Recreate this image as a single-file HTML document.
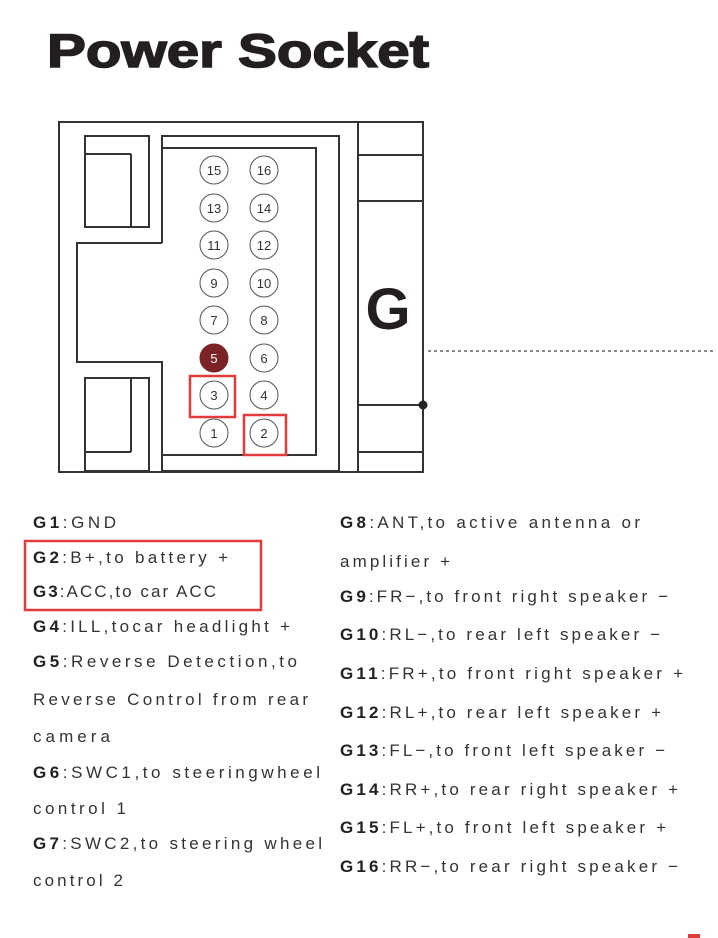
<!DOCTYPE html>
<html><head><meta charset="utf-8"><style>
html,body{margin:0;padding:0;background:#fff;width:718px;height:938px;overflow:hidden}
svg{display:block}
text{font-family:"Liberation Sans",sans-serif}
.t{font-size:17px;fill:#333}
.b{font-weight:bold;fill:#222}
.n{font-size:13px;fill:#333;text-anchor:middle}
</style></head><body>
<svg width="718" height="938" viewBox="0 0 718 938" xmlns="http://www.w3.org/2000/svg">
<text x="47" y="67" font-size="47" font-weight="900" fill="#231f20" textLength="382" lengthAdjust="spacingAndGlyphs" style="font-family:'Liberation Sans',sans-serif;stroke:#231f20;stroke-width:1.5">Power Socket</text>
<g fill="none" stroke="#333" stroke-width="2">
<rect x="59" y="122" width="364" height="350"/>
<line x1="358" y1="122" x2="358" y2="472"/>
<line x1="358" y1="155" x2="423" y2="155"/>
<line x1="358" y1="201" x2="423" y2="201"/>
<line x1="358" y1="405" x2="423" y2="405"/>
<line x1="358" y1="452" x2="423" y2="452"/>
<polyline points="162,243 162,136 339,136 339,471 162,471 162,362 77,362 77,243 162,243"/>
<polyline points="162,148 316,148 316,455 162,455"/>
<rect x="85" y="136" width="64" height="91"/>
<line x1="131" y1="154" x2="131" y2="227"/>
<line x1="85" y1="154" x2="131" y2="154"/>
<rect x="85" y="378" width="64" height="93"/>
<line x1="131" y1="378" x2="131" y2="452"/>
<line x1="85" y1="452" x2="131" y2="452"/>
</g>
<circle cx="423" cy="405" r="4.5" fill="#222"/>
<line x1="428" y1="351" x2="716" y2="351" stroke="#444" stroke-width="1.2" stroke-dasharray="3,3"/>
<text x="388" y="329" font-size="58" font-weight="bold" fill="#231f20" text-anchor="middle">G</text>
<g stroke="#555" stroke-width="1" fill="#fff">
<circle cx="214" cy="170" r="14"/><circle cx="264" cy="170" r="14"/>
<circle cx="214" cy="208" r="14"/><circle cx="264" cy="208" r="14"/>
<circle cx="214" cy="245" r="14"/><circle cx="264" cy="245" r="14"/>
<circle cx="214" cy="283" r="14"/><circle cx="264" cy="283" r="14"/>
<circle cx="214" cy="320" r="14"/><circle cx="264" cy="320" r="14"/>
<circle cx="214" cy="358" r="14" fill="#7a2226" stroke="#7a2226"/><circle cx="264" cy="358" r="14"/>
<circle cx="214" cy="395" r="14"/><circle cx="264" cy="395" r="14"/>
<circle cx="214" cy="433" r="14"/><circle cx="264" cy="433" r="14"/>
</g>
<g class="n">
<text x="214" y="175" class="n">15</text><text x="264" y="175" class="n">16</text>
<text x="214" y="213" class="n">13</text><text x="264" y="213" class="n">14</text>
<text x="214" y="250" class="n">11</text><text x="264" y="250" class="n">12</text>
<text x="214" y="288" class="n">9</text><text x="264" y="288" class="n">10</text>
<text x="214" y="325" class="n">7</text><text x="264" y="325" class="n">8</text>
<text x="214" y="363" class="n" style="fill:#fff">5</text><text x="264" y="363" class="n">6</text>
<text x="214" y="400" class="n">3</text><text x="264" y="400" class="n">4</text>
<text x="214" y="438" class="n">1</text><text x="264" y="438" class="n">2</text>
</g>
<g fill="none" stroke="#e03c3c" stroke-width="2.5">
<rect x="190" y="376" width="45" height="41"/>
<rect x="244" y="415" width="42" height="40"/>
<rect x="25" y="541" width="236" height="69"/>
</g>
<g class="t">
<text x="33" y="528" textLength="83" lengthAdjust="spacing"><tspan class="b">G1</tspan>:GND</text>
<text x="33" y="563" textLength="195" lengthAdjust="spacing"><tspan class="b">G2</tspan>:B+,to battery +</text>
<text x="33" y="597" textLength="183" lengthAdjust="spacing"><tspan class="b">G3</tspan>:ACC,to car ACC</text>
<text x="33" y="632" textLength="257" lengthAdjust="spacing"><tspan class="b">G4</tspan>:ILL,tocar headlight +</text>
<text x="33" y="667" textLength="264" lengthAdjust="spacing"><tspan class="b">G5</tspan>:Reverse Detection,to</text>
<text x="33" y="705" textLength="275" lengthAdjust="spacing">Reverse Control from rear</text>
<text x="33" y="742" textLength="77" lengthAdjust="spacing">camera</text>
<text x="33" y="778" textLength="287" lengthAdjust="spacing"><tspan class="b">G6</tspan>:SWC1,to steeringwheel</text>
<text x="33" y="814" textLength="93" lengthAdjust="spacing">control 1</text>
<text x="33" y="849" textLength="289" lengthAdjust="spacing"><tspan class="b">G7</tspan>:SWC2,to steering wheel</text>
<text x="33" y="886" textLength="90" lengthAdjust="spacing">control 2</text>
<text x="340" y="528" textLength="300" lengthAdjust="spacing"><tspan class="b">G8</tspan>:ANT,to active antenna or</text>
<text x="340" y="567" textLength="110" lengthAdjust="spacing">amplifier +</text>
<text x="340" y="602" textLength="328" lengthAdjust="spacing"><tspan class="b">G9</tspan>:FR−,to front right speaker −</text>
<text x="340" y="640" textLength="320" lengthAdjust="spacing"><tspan class="b">G10</tspan>:RL−,to rear left speaker −</text>
<text x="340" y="679" textLength="343" lengthAdjust="spacing"><tspan class="b">G11</tspan>:FR+,to front right speaker +</text>
<text x="340" y="718" textLength="321" lengthAdjust="spacing"><tspan class="b">G12</tspan>:RL+,to rear left speaker +</text>
<text x="340" y="756" textLength="325" lengthAdjust="spacing"><tspan class="b">G13</tspan>:FL−,to front left speaker −</text>
<text x="340" y="795" textLength="338" lengthAdjust="spacing"><tspan class="b">G14</tspan>:RR+,to rear right speaker +</text>
<text x="340" y="833" textLength="326" lengthAdjust="spacing"><tspan class="b">G15</tspan>:FL+,to front left speaker +</text>
<text x="340" y="872" textLength="338" lengthAdjust="spacing"><tspan class="b">G16</tspan>:RR−,to rear right speaker −</text>
</g>
<rect x="688" y="934" width="12" height="4" fill="#e03c3c"/>
</svg>
</body></html>
